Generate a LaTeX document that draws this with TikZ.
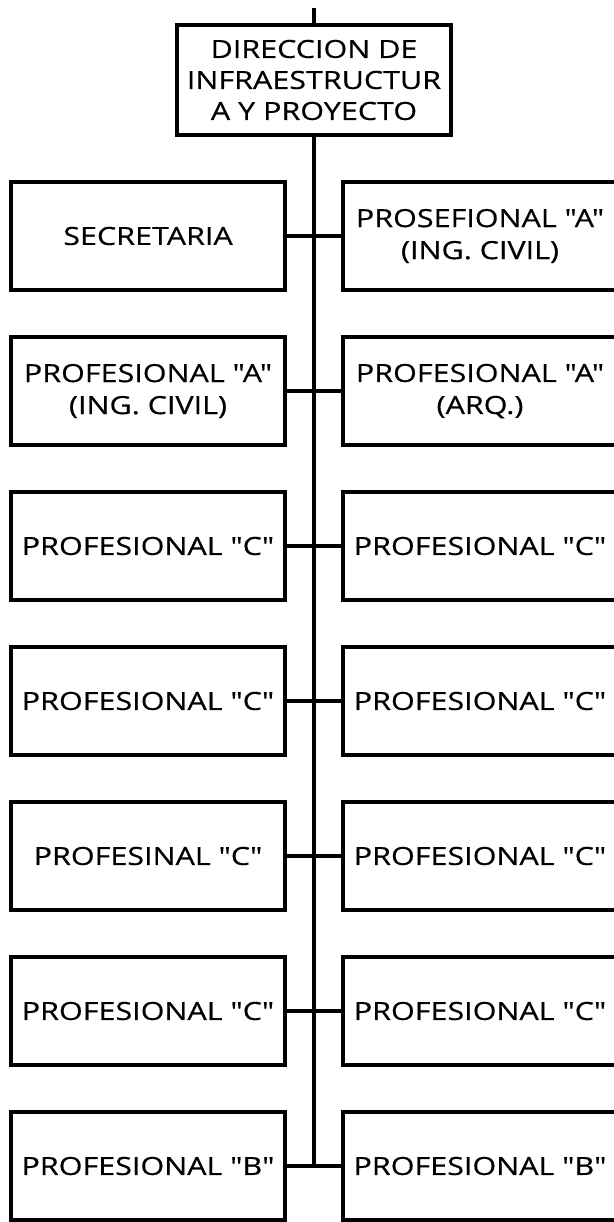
\documentclass[tikz,border=0pt]{standalone}
\usepackage{fontspec}
\newfontfamily\orgfont[FakeStretch=1.22, FakeBold=0.5]{Open Sans}
\usepackage{tikz}
\usetikzlibrary{arrows}

\begin{document}
\begin{tikzpicture}[x=1pt,y=-1pt,line width=4pt,
  nodes={draw, line width=3.6pt, rectangle, align=center, minimum width=274pt, minimum height=108pt, inner sep=0pt, font=\orgfont\fontsize{25}{32}\selectfont}]
      \useasboundingbox (0,0) rectangle (613,1222);

      \node (direccion) at (314,80) [minimum height=110pt, font=\orgfont\fontsize{25}{31}\selectfont] {DIRECCION DE\\INFRAESTRUCTUR\\A Y PROYECTO};

      \node (secretaria) at (148,236) {SECRETARIA};
      \node (civilA) at (480,236) {PROSEFIONAL "A"\\(ING. CIVIL)};

      \node (civilB) at (148,391) {PROFESIONAL "A"\\(ING. CIVIL)};
      \node (arq) at (480,391) {PROFESIONAL "A"\\(ARQ.)};

      \node (c1) at (148,546) {PROFESIONAL "C"};
      \node (c2) at (480,546) {PROFESIONAL "C"};

      \node (c3) at (148,701) {PROFESIONAL "C"};
      \node (c4) at (480,701) {PROFESIONAL "C"};

      \node (c5) at (148,856) {PROFESINAL "C"};
      \node (c6) at (480,856) {PROFESIONAL "C"};

      \node (c7) at (148,1011) {PROFESIONAL "C"};
      \node (c8) at (480,1011) {PROFESIONAL "C"};

      \node (b1) at (148,1166) {PROFESIONAL "B"};
      \node (b2) at (480,1166) {PROFESIONAL "B"};

      \coordinate (arriba) at (314,8);
      \coordinate (abajo) at (direccion.south |- b1.east);

  \draw (arriba) -- (direccion.north);
  \draw (direccion.south) -- (abajo);

  \foreach \from/\to in {secretaria/civilA, civilB/arq, c1/c2, c3/c4, c5/c6, c7/c8, b1/b2}
     \draw (\from) -- (\to);

\end{tikzpicture}
\end{document}
